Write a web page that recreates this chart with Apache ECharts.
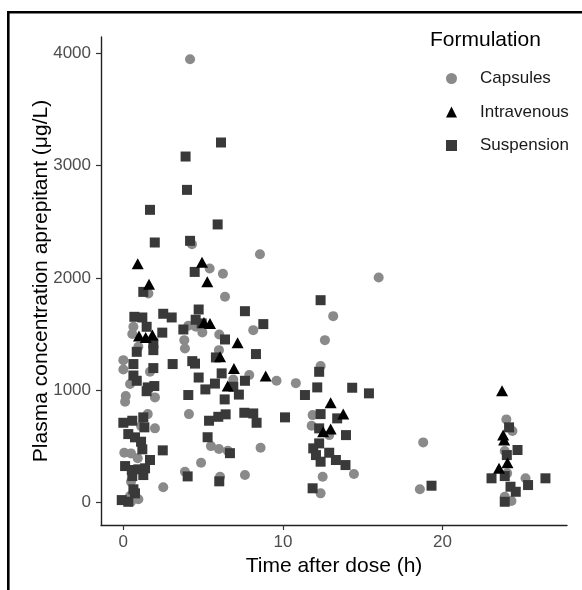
<!DOCTYPE html>
<html>
<head>
<meta charset="utf-8">
<script src="https://cdn.jsdelivr.net/npm/echarts@6/dist/echarts.min.js"></script>
<style>
html, body { margin: 0; padding: 0; background: #fff; }
#main { width: 582px; height: 590px; }
</style>
</head>
<body>
<div id="main"></div>
<script>
// [time (h), concentration (µg/L)]
const capsules = [
  [4.18, 3947], [4.3, 2300], [8.56, 2211], [5.41, 2083], [6.24, 2036], [1.57, 1861], [6.37, 1831], [16.0, 2003],
  [8.14, 1534], [0.63, 1564], [0.56, 1499], [4.07, 1573], [4.55, 1564], [4.95, 1514], [6.01, 1496], [3.82, 1445],
  [3.86, 1371], [0.94, 1386], [5.99, 1356], [0, 1267], [0, 1184], [1.67, 1163], [7.89, 1134], [9.6, 1083],
  [10.81, 1062], [6.89, 1095], [0.42, 1054], [0.15, 947], [0.11, 896], [1.98, 935], [4.11, 786], [1.53, 786],
  [1.11, 679], [1.98, 659], [5.49, 501], [5.99, 475], [6.54, 460], [8.6, 486], [0.06, 442], [0.48, 436],
  [0.9, 392], [4.87, 353], [3.86, 273], [6.06, 228], [7.62, 243], [0.48, 184], [2.5, 134], [0.42, 56],
  [0.94, 27], [0.48, 5],
  [13.15, 1659], [12.63, 1445], [12.36, 1214], [11.86, 777], [11.8, 682], [12.9, 599], [14.45, 252],
  [12.49, 228], [12.36, 80], [18.79, 534], [18.58, 116],
  [24.0, 739], [24.38, 635], [23.9, 457], [24.05, 258], [25.2, 214], [23.9, 50], [24.32, 12]
]

const intravenous = [
  [0.9, 2125], [4.93, 2140], [1.61, 1944], [5.26, 1965], [0.98, 1481], [1.4, 1469], [1.82, 1490],
  [5.05, 1603], [5.43, 1594], [7.16, 1421], [6.06, 1297], [6.93, 1193], [8.92, 1125], [6.54, 1036],
  [12.99, 887], [13.78, 786], [12.52, 629], [12.99, 653],
  [23.73, 994], [23.8, 599], [23.86, 555], [24.07, 353], [23.54, 303]
]

const suspension = [
  [6.12, 3206], [3.9, 3081], [3.99, 2784], [1.67, 2606], [5.91, 2476], [1.97, 2315], [4.18, 2330], [4.47, 2053],
  [1.25, 1875], [4.72, 1718], [7.62, 1703], [0.69, 1653], [1.19, 1647], [2.5, 1680], [3.03, 1647], [8.77, 1588],
  [4.53, 1627], [4.91, 1594], [3.76, 1540], [1.46, 1564], [2.44, 1512], [1.88, 1416], [1.88, 1356], [6.37, 1451],
  [0.84, 1341], [8.31, 1321], [5.8, 1291], [0.63, 1232], [3.09, 1232], [4.32, 1258], [4.49, 1236], [1.88, 1196],
  [6.16, 1149], [0.63, 1130], [0.84, 1083], [4.72, 1112], [7.62, 1083], [1.53, 1024], [1.94, 1036], [1.46, 990],
  [6.89, 1030], [5.74, 1058], [5.14, 1006], [7.24, 960], [6.35, 917], [4.07, 956], [10.13, 757], [7.58, 798],
  [8.14, 792], [8.35, 709], [5.37, 727], [5.95, 762], [6.41, 784], [0, 709], [0.56, 727], [1.25, 757],
  [1.32, 668], [0.31, 608], [0.73, 579], [1.11, 540], [1.19, 472], [2.47, 463], [5.28, 580], [6.68, 438],
  [1.67, 377], [0.11, 323], [0.53, 288], [0.94, 294], [1.36, 303], [0.56, 234], [1.25, 243], [4.03, 231],
  [6.01, 187], [0.63, 116], [0.73, 80], [-0.1, 20], [0.31, 5],
  [12.36, 1801], [11.38, 956], [12.15, 1024], [14.34, 1021], [15.39, 971], [12.36, 786], [13.4, 748],
  [12.27, 659], [13.95, 599], [12.27, 525], [11.9, 481], [12.07, 421], [12.36, 362], [12.9, 442],
  [13.32, 377], [13.92, 332], [11.86, 125], [12.27, 1163], [19.31, 148],
  [24.17, 668], [24.7, 466], [24.03, 421], [23.07, 214], [23.9, 234], [25.36, 154], [26.45, 214],
  [24.26, 139], [24.59, 94], [23.9, 5]
]

const xTicks = [0, 10, 20]
const yTicks = [0, 1000, 2000, 3000, 4000]

const font = 'Liberation Sans, Arial, sans-serif'

const myChart = echarts.init(document.getElementById('main'))

const option = {
  animation: false,
  textStyle: { fontFamily: font },
  grid: { left: 101, right: 15, top: 37, bottom: 65 },
  graphic: [
    // frame lines on the left and top edge of the picture
    { type: 'rect', shape: { x: 7, y: 11, width: 575, height: 2.4 }, style: { fill: '#000' } },
    { type: 'rect', shape: { x: 7, y: 11, width: 2.6, height: 579 }, style: { fill: '#000' } },
    {
      type: 'text', left: 430, top: 30,
      style: { text: 'Formulation', fontSize: 21, fontFamily: font, fill: '#000' }
    }
  ],
  legend: {
    orient: 'vertical',
    left: 441,
    top: 65,
    itemWidth: 11,
    itemHeight: 11,
    itemGap: 16.5,
    textStyle: { fontSize: 17, color: '#1a1a1a', fontFamily: font, padding: [0, 0, 0, 18] },
    data: [
      { name: 'Capsules', icon: 'circle' },
      { name: 'Intravenous', icon: 'triangle' },
      { name: 'Suspension', icon: 'rect' }
    ]
  },
  xAxis: {
    type: 'value',
    min: -1.4,
    max: 27.8,
    splitLine: { show: false },
    axisLine: { onZero: false, lineStyle: { color: '#222', width: 1.4 } },
    axisTick: { length: 5, customValues: xTicks, lineStyle: { color: '#333', width: 1.2 } },
    axisLabel: { customValues: xTicks, color: '#4d4d4d', fontSize: 17, margin: 9 },
    name: 'Time after dose (h)',
    nameLocation: 'middle',
    nameGap: 27,
    nameTextStyle: { color: '#000', fontSize: 21 }
  },
  yAxis: {
    type: 'value',
    min: -202,
    max: 4146,
    splitLine: { show: false },
    axisLine: { show: true, onZero: false, lineStyle: { color: '#222', width: 1.4 } },
    axisTick: { show: true, length: 5, customValues: yTicks, lineStyle: { color: '#333', width: 1.2 } },
    axisLabel: {
      customValues: yTicks, color: '#4d4d4d', fontSize: 17, margin: 10,
      formatter: v => String(v)
    },
    name: 'Plasma concentration aprepitant (μg/L)',
    nameLocation: 'middle',
    nameGap: 49,
    nameMoveOverlap: false,
    nameTextStyle: { color: '#000', fontSize: 21 }
  },
  series: [
    {
      name: 'Capsules', type: 'scatter', symbol: 'circle', symbolSize: 10,
      itemStyle: { color: '#8a8a8a', opacity: 1 },
      emphasis: { disabled: true },
      data: capsules
    },
    {
      name: 'Suspension', type: 'scatter', symbol: 'rect', symbolSize: 10,
      itemStyle: { color: '#393939', opacity: 1 },
      emphasis: { disabled: true },
      data: suspension
    },
    {
      name: 'Intravenous', type: 'scatter', symbol: 'triangle', symbolSize: [12, 11],
      itemStyle: { color: '#000', opacity: 1 },
      emphasis: { disabled: true },
      data: intravenous
    }
  ]
}
myChart.setOption(option)
</script>
</body>
</html>
